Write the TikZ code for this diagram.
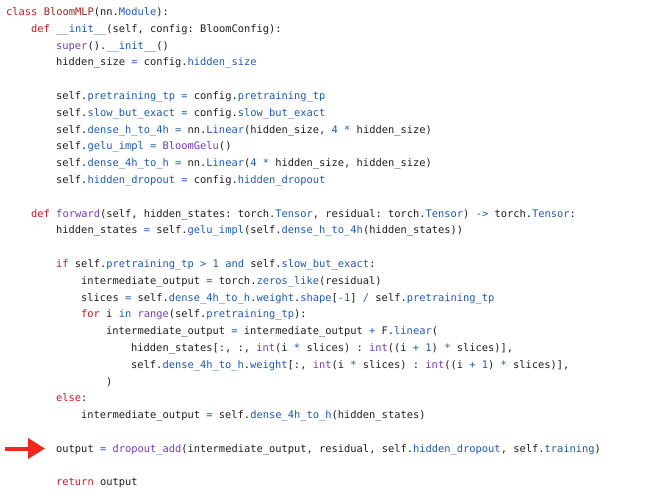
\documentclass[tikz,border=0pt]{standalone}
\usepackage{fontspec}
\setmonofont{DejaVu Sans Mono}
\usepackage{xcolor}
\usetikzlibrary{arrows.meta}
\definecolor{kwred}{RGB}{200,25,35}
\definecolor{clsred}{RGB}{150,40,30}
\definecolor{fnpurple}{RGB}{115,60,185}
\definecolor{atblue}{RGB}{30,90,175}
\definecolor{codeblack}{RGB}{30,30,30}
\definecolor{arrowred}{RGB}{240,40,25}
\newcommand{\kw}[1]{\textcolor{kwred}{#1}}
\newcommand{\cls}[1]{\textcolor{clsred}{#1}}
\newcommand{\fn}[1]{\textcolor{fnpurple}{#1}}
\newcommand{\at}[1]{\textcolor{atblue}{#1}}

\begin{document}
\begin{tikzpicture}[x=1pt, y=-1pt,
    code/.style={anchor=base west, inner sep=0pt, text=codeblack, font=\fontsize{10.4}{12}\selectfont\ttfamily}]
    \useasboundingbox[fill=white] (0,0) rectangle (661,500);

    \node[code] (l1) at (6,15.5) {\kw{class} \cls{BloomMLP}(nn.\at{Module}):};
    \node[code] (l2) at (31,32.3) {\kw{def} \at{\_\_init\_\_}(self, config: BloomConfig):};
    \node[code] (l3) at (56,49.1) {\fn{super}().\at{\_\_init\_\_}()};
    \node[code] (l4) at (56,65.9) {hidden\_size \at{=} config.\at{hidden\_size}};

    \node[code] (l6) at (56,99.5) {self.\at{pretraining\_tp} \at{=} config.\at{pretraining\_tp}};
    \node[code] (l7) at (56,116.3) {self.\at{slow\_but\_exact} \at{=} config.\at{slow\_but\_exact}};
    \node[code] (l8) at (56,133.1) {self.\at{dense\_h\_to\_4h} \at{=} nn.\at{Linear}(hidden\_size, \at{4 *} hidden\_size)};
    \node[code] (l9) at (56,149.9) {self.\at{gelu\_impl} \at{=} \fn{BloomGelu}()};
    \node[code] (l10) at (56,166.7) {self.\at{dense\_4h\_to\_h} \at{=} nn.\at{Linear}(\at{4 *} hidden\_size, hidden\_size)};
    \node[code] (l11) at (56,183.5) {self.\at{hidden\_dropout} \at{=} config.\at{hidden\_dropout}};

    \node[code] (l13) at (31,217.1) {\kw{def} \fn{forward}(self, hidden\_states: torch.\at{Tensor}, residual: torch.\at{Tensor}) \at{->} torch.\at{Tensor}:};
    \node[code] (l14) at (56,233.9) {hidden\_states \at{=} self.\at{gelu\_impl}(self.\at{dense\_h\_to\_4h}(hidden\_states))};

    \node[code] (l16) at (56,267.5) {\kw{if} self.\at{pretraining\_tp} \at{> 1 and} self.\at{slow\_but\_exact}:};
    \node[code] (l17) at (81,284.3) {intermediate\_output \at{=} torch.\at{zeros\_like}(residual)};
    \node[code] (l18) at (81,301.1) {slices \at{=} self.\at{dense\_4h\_to\_h}.\at{weight}.\at{shape}[\at{-1}] \at{/} self.\at{pretraining\_tp}};
    \node[code] (l19) at (81,317.9) {\kw{for} i \at{in} \fn{range}(self.\at{pretraining\_tp}):};
    \node[code] (l20) at (106,334.7) {intermediate\_output \at{=} intermediate\_output \at{+} F.\at{linear}(};
    \node[code] (l21) at (131,351.5) {hidden\_states[:, :, \fn{int}(i \at{*} slices) : \fn{int}((i \at{+ 1}) \at{*} slices)],};
    \node[code] (l22) at (131,368.3) {self.\at{dense\_4h\_to\_h}.\at{weight}[:, \fn{int}(i \at{*} slices) : \fn{int}((i \at{+ 1}) \at{*} slices)],};
    \node[code] (l23) at (106,385.1) {)};
    \node[code] (l24) at (56,401.9) {\kw{else}:};
    \node[code] (l25) at (81,418.7) {intermediate\_output \at{=} self.\at{dense\_4h\_to\_h}(hidden\_states)};

    \node[code] (l27) at (56,452.3) {output \at{=} \fn{dropout\_add}(intermediate\_output, residual, self.\at{hidden\_dropout}, self.\at{training})};

    \node[code] (l29) at (56,485.9) {\kw{return} output};

    % pointer to the dropout line
    \coordinate (tail) at (5,448.5);
    \draw[arrowred, line width=4pt, -{Triangle[length=17pt, width=20pt]}, shorten >=11pt] (tail) -- (tail -| l27.west);
\end{tikzpicture}
\end{document}
